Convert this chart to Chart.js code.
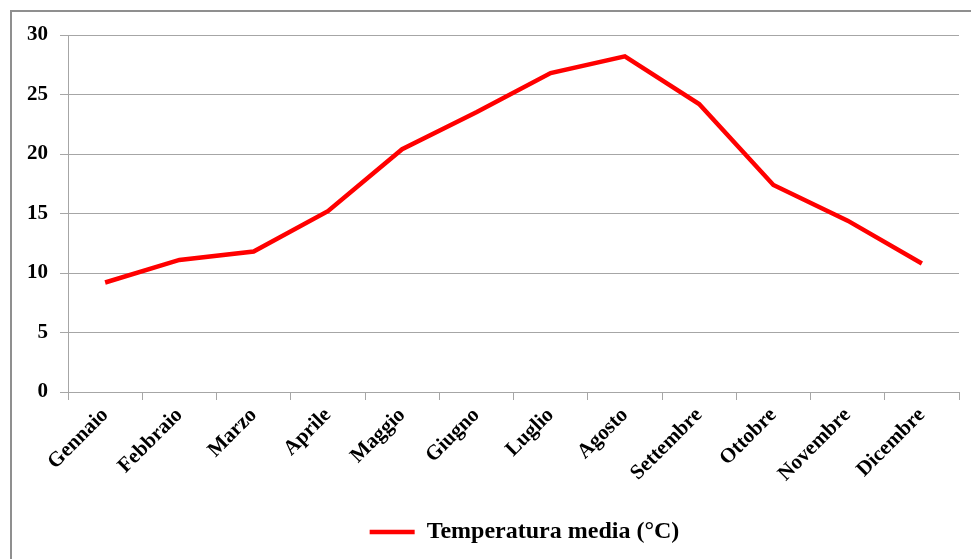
<!DOCTYPE html>
<html>
<head>
<meta charset="utf-8">
<script src="https://cdn.jsdelivr.net/npm/chart.js@4"></script>
<style>
    body { margin: 0; background: #fff; overflow: hidden; }
    #frame {
        position: absolute; left: 10px; top: 10px;
        width: 1000px; height: 600px;
        border: 2px solid #8f8f8f;
    }
    #wrap { position: absolute; left: 0; top: 0; width: 971px; height: 559px; }
</style>
</head>
<body>
<div id="frame"></div>
<div id="wrap"><canvas id="myChart"></canvas></div>
<script>
const months = ['Gennaio', 'Febbraio', 'Marzo', 'Aprile', 'Maggio', 'Giugno',
    'Luglio', 'Agosto', 'Settembre', 'Ottobre', 'Novembre', 'Dicembre'];
const temperatures = [9.2, 11.1, 11.8, 15.2, 20.4, 23.5, 26.8, 28.2, 24.2, 17.4, 14.4, 10.8];
const yTicks = [0, 5, 10, 15, 20, 25, 30];

const gridGray = '#a6a6a6';
const serif = 'Liberation Serif';

// the legend sits a bit right of centre in the original (frame is wider than the picture)
const shiftLegend = {
    id: 'shiftLegend',
    afterLayout(chart) {
        if (chart.legend) {
            chart.legend.left += 40;
            chart.legend.right += 40;
        }
    }
};

document.addEventListener("DOMContentLoaded", function () {
    const ctx = document.getElementById("myChart").getContext('2d');

    new Chart(ctx, {
        type: 'line',
        data: {
            labels: months,
            datasets: [{
                label: 'Temperatura media (°C)',
                data: temperatures,
                borderColor: '#ff0000',
                backgroundColor: '#ff0000',
                borderWidth: 4.5,
                tension: 0,
                pointRadius: 0,
                fill: false
            }]
        },
        options: {
            responsive: true,
            maintainAspectRatio: false,
            animation: false,
            layout: {
                padding: { left: 10, right: 12, top: 35, bottom: 5 }
            },
            plugins: {
                legend: {
                    position: 'bottom',
                    labels: {
                        usePointStyle: true,
                        pointStyle: 'line',
                        pointStyleWidth: 45,
                        color: '#000',
                        padding: 10,
                        font: { family: serif, size: 24, weight: 'bold' }
                    }
                },
                tooltip: { enabled: false }
            },
            scales: {
                x: {
                    offset: true,
                    grid: {
                        offset: true,
                        drawOnChartArea: false,
                        tickLength: 8,
                        color: gridGray
                    },
                    border: { color: gridGray },
                    ticks: {
                        color: '#000',
                        maxRotation: 45,
                        minRotation: 45,
                        font: { family: serif, size: 21, weight: 'bold' }
                    },
                    afterFit: function (scale) { scale.height = 118; }
                },
                y: {
                    min: 0,
                    max: 30,
                    afterBuildTicks: function (scale) {
                        scale.ticks = yTicks.map(v => ({ value: v }));
                    },
                    grid: { color: gridGray, tickLength: 8 },
                    border: { color: gridGray },
                    ticks: {
                        color: '#000',
                        padding: 12,
                        font: { family: serif, size: 21, weight: 'bold' }
                    },
                    afterFit: function (scale) { scale.width = 58; }
                }
            }
        },
        plugins: [shiftLegend]
    });
});
</script>
</body>
</html>
